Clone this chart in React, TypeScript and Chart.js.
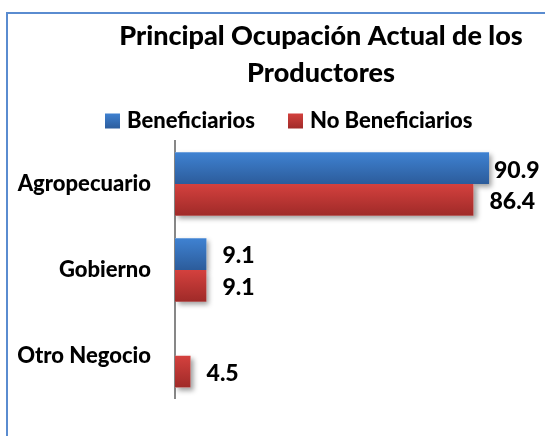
import { useEffect, useRef } from 'react';
import { Chart, registerables } from 'chart.js';

Chart.register(...registerables);

const categories = ['Agropecuario', 'Gobierno', 'Otro Negocio'];
const seriesNames = ['Beneficiarios', 'No Beneficiarios'];
const beneficiarios: (number | null)[] = [90.9, 9.1, null];
const noBeneficiarios: (number | null)[] = [86.4, 9.1, 4.5];
const titleLines = ['Principal Ocupación Actual de los', 'Productores'];
const xMin = 0;
const xMax = 100;

const FONT = 'Lato, "Open Sans", sans-serif';
const W = '900';
const BLUE = ['#3f82d2', '#2c5c9b'];
const RED = ['#d4413e', '#9f2a28'];
const CAT_PCT = 0.739;

function grad(colors: string[]) {
  return (ctx: any) => {
    const chart = ctx.chart;
    const y = chart.scales?.y;
    if (!y || ctx.type !== 'data') return colors[0];
    const center = y.getPixelForValue(ctx.dataIndex);
    const band = ((y.bottom - y.top) / categories.length) * CAT_PCT;
    const top = ctx.datasetIndex === 0 ? center - band / 2 : center;
    if (!isFinite(top) || !isFinite(band) || band <= 0) return colors[0];
    const g = chart.ctx.createLinearGradient(0, top, 0, top + band / 2);
    g.addColorStop(0, colors[0]);
    g.addColorStop(1, colors[1]);
    return g;
  };
}

const framePlugin = {
  id: 'frame',
  beforeDraw(chart: any) {
    const c = chart.ctx;
    c.save();
    c.strokeStyle = '#5a8cd0';
    c.lineWidth = 2;
    c.beginPath();
    c.moveTo(7, chart.height);
    c.lineTo(7, 13);
    c.lineTo(chart.width, 13);
    c.stroke();
    c.restore();
  },
};

const headerPlugin = {
  id: 'header',
  afterDraw(chart: any) {
    const c = chart.ctx;
    c.save();
    c.fillStyle = '#000';
    c.font = `${W} 27px ${FONT}`;
    c.textAlign = 'center';
    c.textBaseline = 'alphabetic';
    c.fillText(titleLines[0], 321, 45);
    c.fillText(titleLines[1], 321, 82);
    const items = [
      { name: seriesNames[0], colors: BLUE, bx: 105, tx: 127 },
      { name: seriesNames[1], colors: RED, bx: 288, tx: 310 },
    ];
    c.font = `${W} 22px ${FONT}`;
    c.textAlign = 'left';
    for (const it of items) {
      const g = c.createLinearGradient(0, 113, 0, 129);
      g.addColorStop(0, it.colors[0]);
      g.addColorStop(1, it.colors[1]);
      c.fillStyle = g;
      c.fillRect(it.bx, 113.5, 15, 15);
      c.fillStyle = '#000';
      c.fillText(it.name, it.tx, 128);
    }
    c.restore();
  },
};

const shadowPlugin = {
  id: 'barShadow',
  beforeDatasetsDraw(chart: any) {
    const c = chart.ctx;
    c.save();
    c.shadowColor = 'rgba(0,0,0,0.38)';
    c.shadowBlur = 5;
    c.shadowOffsetX = 3;
    c.shadowOffsetY = 3;
    c.fillStyle = '#fff';
    chart.data.datasets.forEach((_: any, di: number) => {
      const meta = chart.getDatasetMeta(di);
      meta.data.forEach((el: any, i: number) => {
        if (chart.data.datasets[di].data[i] == null) return;
        const p = el.getProps(['x', 'y', 'base', 'height'], true);
        if (![p.x, p.y, p.base, p.height].every(isFinite)) return;
        c.fillRect(p.base, p.y - p.height / 2, p.x - p.base, p.height);
      });
    });
    c.restore();
  },
};

const labelPlugin = {
  id: 'valueLabels',
  afterDatasetsDraw(chart: any) {
    const c = chart.ctx;
    c.save();
    c.font = `${W} 23px ${FONT}`;
    c.fillStyle = '#000';
    c.textAlign = 'left';
    c.textBaseline = 'middle';
    chart.data.datasets.forEach((ds: any, di: number) => {
      const meta = chart.getDatasetMeta(di);
      meta.data.forEach((el: any, i: number) => {
        const v = ds.data[i];
        if (v == null) return;
        const txt = v.toFixed(1);
        const w = c.measureText(txt).width;
        const p = el.getProps(['x', 'y'], true);
        const x = Math.min(p.x + 16, chart.width - 5.5 - w);
        c.fillText(txt, x, p.y + 2);
      });
    });
    c.restore();
  },
};

export default function App() {
  const ref = useRef<HTMLCanvasElement>(null);
  useEffect(() => {
    if (!ref.current) return;
    const chart = new Chart(ref.current, {
      type: 'bar',
      data: {
        labels: categories,
        datasets: [
          {
            label: seriesNames[0],
            data: beneficiarios,
            backgroundColor: grad(BLUE),
            borderWidth: 0,
            categoryPercentage: CAT_PCT,
            barPercentage: 1,
          },
          {
            label: seriesNames[1],
            data: noBeneficiarios,
            backgroundColor: grad(RED),
            borderWidth: 0,
            categoryPercentage: CAT_PCT,
            barPercentage: 1,
          },
        ],
      },
      options: {
        indexAxis: 'y',
        responsive: false,
        animation: false,
        devicePixelRatio: 1,
        layout: { padding: { top: 141, bottom: 19, left: 0, right: 24.5 } },
        plugins: {
          legend: { display: false },
          title: { display: false },
          tooltip: { enabled: false },
        },
        scales: {
          x: { display: false, min: xMin, max: xMax },
          y: {
            grid: { display: false, drawTicks: false },
            border: { display: true, color: '#878787', width: 2 },
            ticks: {
              color: '#000',
              padding: 24,
              font: { family: FONT, size: 22, weight: W },
            },
            afterFit: (s: any) => {
              s.width = 175;
            },
          },
        },
      },
      plugins: [framePlugin, shadowPlugin, labelPlugin, headerPlugin],
    });
    return () => chart.destroy();
  }, []);
  return (
    <div style={{ position: 'absolute', left: 0, top: 0, width: 545, height: 436, overflow: 'hidden', background: '#fff' }}>
      <canvas ref={ref} width={545} height={436} />
    </div>
  );
}
